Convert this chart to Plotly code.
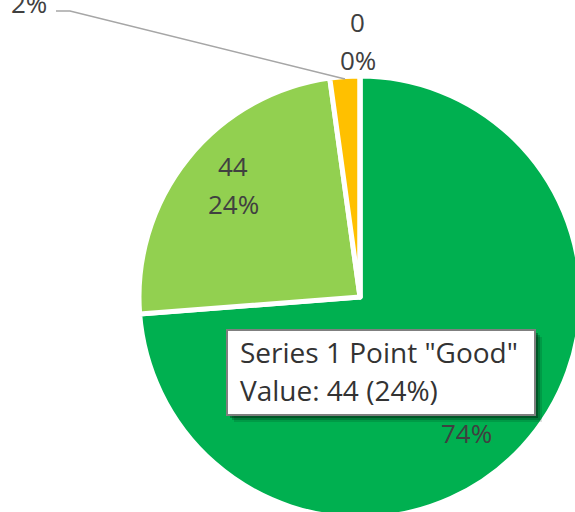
import math
import plotly.graph_objects as go

# ---- data ----
series_name = "Series 1"
labels = ["Excellent", "Good", "Fair", "Poor"]
values = [135, 44, 4, 0]
colors = ["#00B050", "#92D050", "#FFC000", "#C00000"]
hover_index = 1  # the point whose tooltip is shown

# ---- layout constants ----
W, H = 585, 522            # figure is slightly larger than the window: the pie is cropped at right/bottom
CX, CY = 360, 297          # pie centre in px (y from top)
R = 221                    # pie radius in px
EDGE = 5                   # white separator width
FONT = "Open Sans"
LABEL_COLOR = "#404040"
LABEL_SIZE = 26
TIP_SIZE = 28
LINE_GAP = 38              # spacing between value / percent lines

total = sum(values)
pcts = [v / total for v in values]

# bisector angle (degrees clockwise from 12 o'clock) of each slice
bis = []
acc = 0.0
for p in pcts:
    bis.append((acc + p / 2) * 360)
    acc += p


def polar(theta_deg, r):
    t = math.radians(theta_deg)
    return CX + r * math.sin(t), CY - r * math.cos(t)


def px(x):
    return x / W


def py(y):
    return 1 - y / H


fig = go.Figure(
    go.Pie(
        labels=labels,
        values=values,
        sort=False,
        direction="clockwise",
        rotation=0,
        marker=dict(colors=colors, line=dict(color="white", width=EDGE)),
        textinfo="none",
        hoverinfo="skip",
        showlegend=False,
        domain=dict(x=[(CX - R) / W, (CX + R) / W], y=[(H - CY - R) / H, (H - CY + R) / H]),
    )
)

annotations = []
shapes = []


def add_text(x, y, text, size=LABEL_SIZE, color=LABEL_COLOR, xanchor="center"):
    annotations.append(dict(
        x=px(x), y=py(y), xref="paper", yref="paper", text=text, showarrow=False,
        xanchor=xanchor, yanchor="middle", font=dict(family=FONT, size=size, color=color),
    ))


# data labels: (slice index, radial distance px, angle nudge, show value line)
label_place = [(0, 158, 4.8, False), (1, 169, 2.5, True), (3, 256, -0.5, True)]
for i, r, dth, show_val in label_place:
    x, y = polar(bis[i] + dth, r)
    if show_val:  # the value of the big slice is hidden behind the tooltip
        add_text(x, y - LINE_GAP / 2, f"{values[i]}")
    add_text(x, y + LINE_GAP / 2, f"{round(pcts[i] * 100)}%")

# small slice label with leader line, top-left (its value line lies above the window)
ax, ay = polar(bis[2], R - EDGE / 2)
shapes.append(dict(type="path", xref="paper", yref="paper",
                   path=f"M {px(ax)},{py(ay)} L {px(70)},{py(11)} L {px(56)},{py(11)}",
                   line=dict(color="#a6a6a6", width=1.5)))
add_text(49, 3, f"{round(pcts[2] * 100)}%", xanchor="right")

# tooltip
bx0, by0, bx1, by1 = 227, 330, 535, 415
for off, op in [(7, 0.12), (5, 0.2), (3, 0.3)]:
    shapes.append(dict(type="rect", xref="paper", yref="paper",
                       x0=px(bx0 + off), x1=px(bx1 + off), y0=py(by0 + off), y1=py(by1 + off),
                       fillcolor="black", opacity=op, line=dict(width=0)))
shapes.append(dict(type="rect", xref="paper", yref="paper",
                   x0=px(bx0), x1=px(bx1), y0=py(by0), y1=py(by1),
                   fillcolor="white", line=dict(color="#7f7f7f", width=2)))
hv = values[hover_index]
add_text(238, 352, f'{series_name} Point "{labels[hover_index]}"', size=TIP_SIZE, color="#333333", xanchor="left")
add_text(238, 390, f"Value: {hv} ({round(pcts[hover_index] * 100)}%)", size=TIP_SIZE, color="#333333", xanchor="left")

fig.update_layout(
    width=W, height=H,
    margin=dict(l=0, r=0, t=0, b=0),
    paper_bgcolor="white", plot_bgcolor="white",
    shapes=shapes, annotations=annotations,
)

fig.write_html(
    "out.html",
    config={"displayModeBar": False},
    post_script="document.body.style.margin='0';"
                "document.body.style.overflow='hidden';"
                "document.documentElement.style.overflow='hidden';",
)
